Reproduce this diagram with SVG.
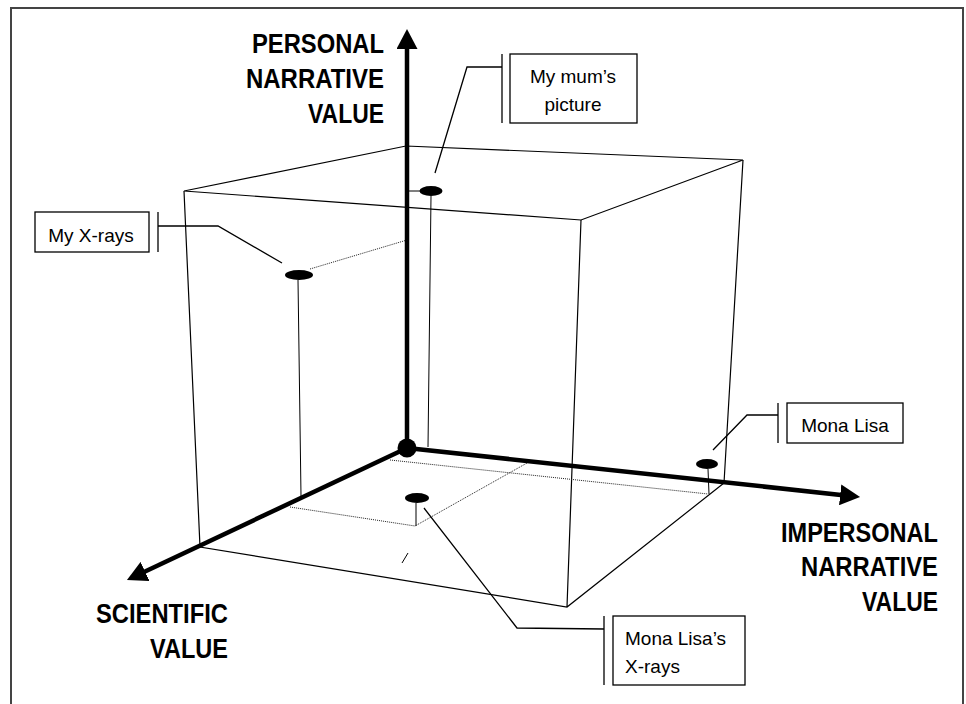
<svg xmlns="http://www.w3.org/2000/svg" width="966" height="704" viewBox="0 0 966 704">
<style>
.frame{fill:none;stroke:#444;stroke-width:2}
.cube{fill:none;stroke:#000;stroke-width:1.2}
.thin{fill:none;stroke:#000;stroke-width:1}
.dot{fill:none;stroke:#222;stroke-width:1;stroke-dasharray:1 1}
.axis{fill:none;stroke:#000;stroke-width:4.5}
.lead{fill:none;stroke:#000;stroke-width:1.3}
.box{fill:#fff;stroke:#000;stroke-width:1.3}
.pt{fill:#000}
.ax{font-family:"Liberation Sans",Arial,sans-serif;font-weight:bold;font-size:27px;fill:#000}
.lb{font-family:"Liberation Sans",Arial,sans-serif;font-size:19px;fill:#000}
</style>
<defs>
<marker id="ah" markerUnits="userSpaceOnUse" markerWidth="20" markerHeight="21" refX="10" refY="10.5" orient="auto">
<path d="M0,0 L20,10.5 L0,21 Z" fill="#000"/>
</marker>
</defs>
<rect x="0" y="0" width="966" height="704" fill="#fff"/>
<path class="frame" d="M11,706 L11,8 L963,8 L963,706"/>

<g id="cube">
<path class="cube" d="M184,191 L406,146 L743,160 L581,220 Z"/>
<path class="cube" d="M743,160 L724,483 M581,220 L567,607 M184,191 L200,547 L567,607 L724,483"/>
</g>

<g id="connectors">
<path class="thin" d="M407,191 L420,191 M431,196 L428,447"/>
<path class="dot" d="M310,269 L407,240"/>
<path class="thin" d="M298,280 L301,496"/>
<path class="thin" d="M416,503 L416,526"/>
<path class="dot" d="M290,507 L415,526 L527,463 M390,460 L708,494"/>
<path class="thin" d="M708,469 L709,494"/>
<path class="thin" d="M402,563 L408,553" stroke="#777"/>
<path class="axis" d="M407,448 L407,39" marker-end="url(#ah)"/>
<path class="axis" d="M407,448 L850.1,495.9" marker-end="url(#ah)"/>
<path class="axis" d="M407,448 L136,575.7" marker-end="url(#ah)"/>
<path class="lead" d="M502,67 L467,67 L435,173"/>
<path class="lead" d="M158,226 L218,226 L282,263"/>
<path class="lead" d="M778,415 L747,415 L713,450"/>
<path class="lead" d="M604,629 L517,628 L424,508"/>
</g>

<g id="origin"><circle class="pt" cx="407" cy="448" r="9.5"/></g>

<g id="axis-personal">
<text class="ax" text-anchor="end" x="384" y="53" textLength="132" lengthAdjust="spacingAndGlyphs">PERSONAL</text>
<text class="ax" text-anchor="end" x="384" y="88" textLength="138" lengthAdjust="spacingAndGlyphs">NARRATIVE</text>
<text class="ax" text-anchor="end" x="384" y="123" textLength="76" lengthAdjust="spacingAndGlyphs">VALUE</text>
</g>
<g id="axis-impersonal">
<text class="ax" text-anchor="end" x="938" y="542" textLength="157" lengthAdjust="spacingAndGlyphs">IMPERSONAL</text>
<text class="ax" text-anchor="end" x="938" y="576" textLength="137" lengthAdjust="spacingAndGlyphs">NARRATIVE</text>
<text class="ax" text-anchor="end" x="938" y="611" textLength="76" lengthAdjust="spacingAndGlyphs">VALUE</text>
</g>
<g id="axis-scientific">
<text class="ax" text-anchor="end" x="228" y="623" textLength="132" lengthAdjust="spacingAndGlyphs">SCIENTIFIC</text>
<text class="ax" text-anchor="end" x="228" y="658" textLength="78" lengthAdjust="spacingAndGlyphs">VALUE</text>
</g>

<g id="mum">
<ellipse class="pt" cx="431" cy="191" rx="11.5" ry="5"/>
<path class="lead" d="M502,54 L502,123"/>
<rect class="box" x="510" y="54" width="127" height="69"/>
<text class="lb" text-anchor="middle" x="573" y="83">My mum’s</text>
<text class="lb" text-anchor="middle" x="573" y="111">picture</text>
</g>

<g id="xrays">
<ellipse class="pt" cx="299" cy="275" rx="14" ry="5"/>
<path class="lead" d="M158,212 L158,252"/>
<rect class="box" x="35" y="212" width="114" height="40"/>
<text class="lb" text-anchor="middle" x="91" y="242">My X-rays</text>
</g>

<g id="monalisa">
<ellipse class="pt" cx="707" cy="464" rx="11" ry="5"/>
<path class="lead" d="M778,403 L778,443"/>
<rect class="box" x="787" y="403" width="116" height="40"/>
<text class="lb" text-anchor="middle" x="845" y="432">Mona Lisa</text>
</g>

<g id="monalisa-xrays">
<ellipse class="pt" cx="417" cy="498" rx="12" ry="5"/>
<path class="lead" d="M604,616 L604,685"/>
<rect class="box" x="613" y="616" width="132" height="69"/>
<text class="lb" x="625" y="645">Mona Lisa’s</text>
<text class="lb" x="625" y="673">X-rays</text>
</g>
</svg>
